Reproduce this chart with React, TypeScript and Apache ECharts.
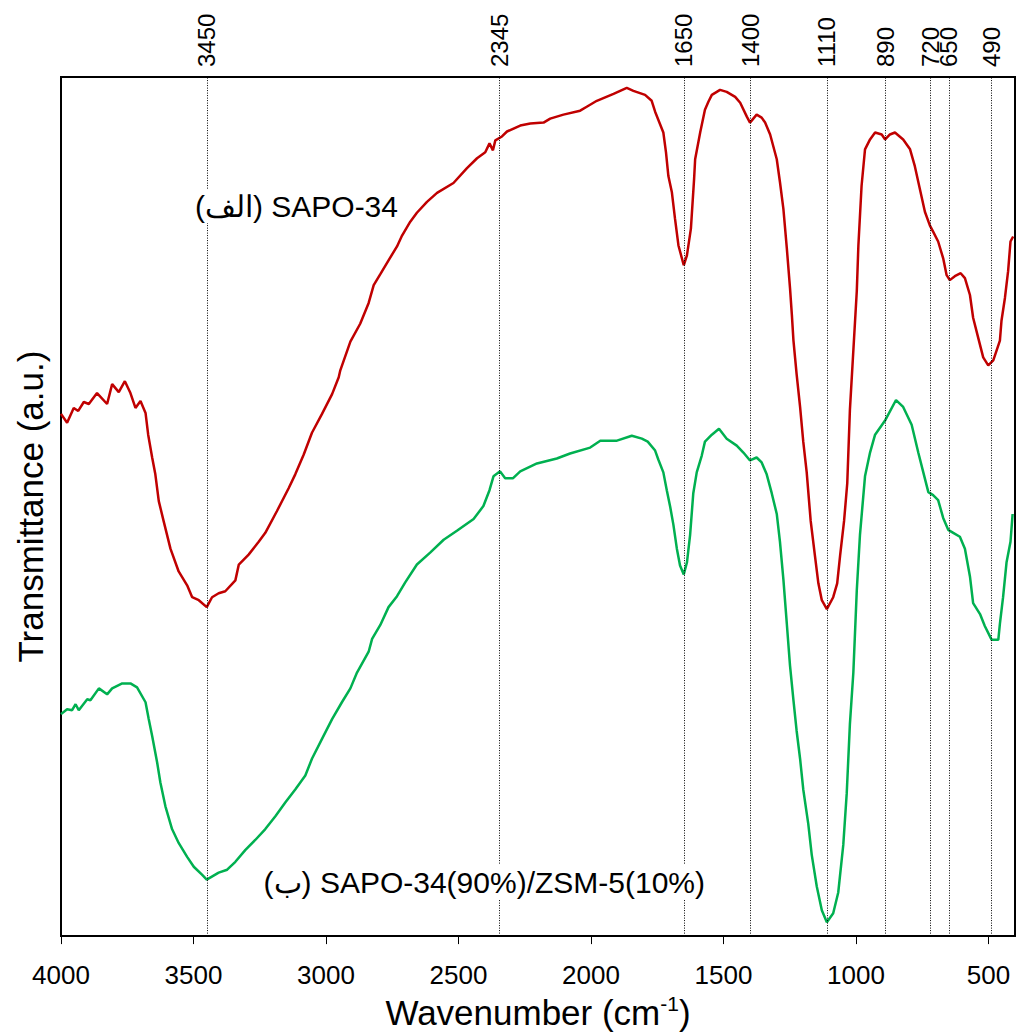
import React, { useEffect, useRef } from "react";
import * as echarts from "echarts";

// ---- Data ----
const bottomTicks = [4000, 3500, 3000, 2500, 2000, 1500, 1000, 500];
const peakLabels = [3450, 2345, 1650, 1400, 1110, 890, 720, 650, 490];

const sapoName = "(الف) SAPO-34";
const compName = "(ب) SAPO-34(90%)/ZSM-5(10%)";

const redWn = [4000,3977,3952,3935,3914,3895,3864,3826,3807,3782,
  3759,3738,3719,3700,3681,3671,3656,3644,3631,3612,
  3587,3556,3524,3505,3480,3450,3430,3405,3380,3342,
  3329,3292,3254,3229,3185,3141,3116,3084,3053,3015,
  2977,2952,2946,2908,2871,2839,2820,2795,2764,2732,
  2713,2682,2657,2619,2581,2519,2468,2430,2399,2383,
  2370,2361,2336,2317,2267,2229,2179,2154,2104,2041,
  2016,1978,1915,1865,1840,1796,1771,1758,1727,1717,
  1708,1695,1683,1670,1650,1638,1623,1611,1607,1588,
  1570,1557,1544,1513,1488,1456,1437,1412,1400,1375,
  1356,1343,1324,1299,1287,1274,1261,1249,1242,1236,
  1224,1211,1199,1186,1171,1155,1142,1129,1110,1086,
  1071,1060,1045,1033,1023,997,991,979,966,947,
  928,903,890,872,853,822,796,778,759,740,
  721,709,690,671,658,646,627,605,589,570,
  558,539,520,501,482,457,451,438,426,417,
  407];
const redT = [527,518,533,530,539,537,548,537,557,549,
  560,548,533,540,528,506,483,466,439,418,
  391,368,354,342,339,332,342,346,348,359,
  375,385,398,407,429,452,466,486,508,527,
  547,564,571,600,618,639,657,668,682,696,
  707,721,730,741,750,760,775,785,791,800,
  793,803,807,812,818,820,821,825,829,833,
  837,843,850,856,853,849,843,832,811,791,
  767,751,724,697,677,687,714,764,784,811,
  834,842,849,854,852,847,841,827,821,829,
  826,821,809,784,761,734,694,654,627,601,
  567,534,499,468,419,384,356,339,330,342,
  356,384,419,457,531,651,697,757,794,804,
  811,809,804,809,811,804,794,777,754,731,
  717,711,701,684,667,662,666,669,664,647,
  624,604,584,576,581,601,621,644,671,701,
  706];

const greenWn = [4000,3977,3958,3945,3933,3901,3889,3857,3826,3807,
  3769,3738,3713,3681,3669,3656,3637,3625,3606,3581,
  3556,3524,3499,3468,3450,3405,3373,3342,3304,3267,
  3229,3191,3153,3116,3078,3053,3015,2977,2940,2908,
  2883,2839,2826,2795,2764,2732,2701,2657,2607,2556,
  2506,2443,2406,2383,2368,2343,2324,2295,2267,2204,
  2129,2079,2003,1965,1902,1846,1808,1786,1758,1746,
  1727,1714,1701,1689,1676,1664,1650,1638,1626,1614,
  1601,1582,1570,1544,1517,1488,1450,1425,1400,1375,
  1356,1337,1318,1299,1287,1274,1261,1249,1236,1224,
  1211,1199,1180,1167,1148,1129,1110,1086,1067,1048,
  1035,1023,1010,997,985,966,947,928,891,849,
  822,790,765,746,727,709,690,671,652,633,
  608,589,570,558,532,514,488,463,457,445,
  432,417,409];
const greenT = [224,229,228,234,228,239,238,250,244,250,
  255,255,251,236,219,202,175,155,131,108,
  94,80,70,62,57,64,67,75,87,97,
  108,121,135,148,162,179,199,219,236,250,
  266,287,300,314,332,343,357,375,387,400,
  409,421,434,450,464,469,462,462,469,477,
  482,487,493,500,500,505,502,499,490,481,
  468,450,433,415,391,374,365,377,405,447,
  468,485,499,506,512,502,495,488,480,483,
  478,466,447,426,398,360,315,273,238,207,
  179,148,113,82,50,26,14,23,44,92,
  144,214,266,349,405,464,488,506,520,541,
  534,516,488,468,448,445,440,422,410,407,
  403,391,363,336,325,313,299,299,315,342,
  377,398,426];

const FONT = '"Liberation Sans", Arial, Helvetica, sans-serif';

function zip(xs: number[], ys: number[]) {
  const n = Math.min(xs.length, ys.length);
  const out: number[][] = [];
  for (let i = 0; i < n; i++) out.push([xs[i], ys[i]]);
  return out;
}

export default function App() {
  const ref = useRef<HTMLDivElement>(null);
  useEffect(() => {
    if (!ref.current) return;
    const chart = echarts.init(ref.current, null, { renderer: "svg" });
    const option: any = {
      animation: false,
      backgroundColor: "#fff",
      grid: {
        left: 61, right: 1, top: 77, bottom: 92,
        show: true, borderColor: "#000", borderWidth: 2,
        backgroundColor: "transparent",
      },
      xAxis: [
        {
          type: "value", min: 400, max: 4000, inverse: true, position: "bottom",
          axisLine: { show: true, lineStyle: { color: "#000", width: 2 } },
          axisTick: { show: true, inside: false, length: 8, customValues: bottomTicks, lineStyle: { color: "#000", width: 1 } },
          axisLabel: { customValues: bottomTicks, formatter: (v: number) => String(v), fontSize: 26, color: "#000", margin: 26, fontFamily: FONT },
          splitLine: { show: false },
          name: "Wavenumber (cm{sup|-1})",
          nameLocation: "middle",
          nameGap: 52,
          nameTextStyle: {
            fontSize: 35, color: "#000", fontFamily: FONT, lineHeight: 38,
            rich: { sup: { fontSize: 21, color: "#000", fontFamily: FONT, verticalAlign: "top", lineHeight: 21 } },
          },
        },
        {
          type: "value", min: 400, max: 4000, inverse: true, position: "top",
          axisLine: { show: false }, axisTick: { show: false }, splitLine: { show: false },
          axisLabel: { customValues: peakLabels, rotate: -90, fontSize: 24, margin: 10, color: "#000", fontFamily: FONT, formatter: (v: number) => String(v) },
        },
      ],
      yAxis: {
        type: "value", min: 0, max: 867,
        axisLine: { show: false }, axisTick: { show: false }, axisLabel: { show: false }, splitLine: { show: false },
        name: "Transmittance (a.u.)", nameLocation: "middle", nameGap: 13,
        nameTextStyle: { fontSize: 35, color: "#000", fontFamily: FONT },
      },
      series: [
        {
          type: "line", data: [], silent: true,
          markLine: {
            silent: true, symbol: ["none", "none"], label: { show: false },
            lineStyle: { type: [1, 1.5], color: "#000", width: 1 },
            emphasis: { disabled: true },
            data: peakLabels.map((v) => ({ xAxis: v })),
          },
        },
        {
          name: sapoName, type: "line", showSymbol: false, data: zip(redWn, redT),
          lineStyle: { color: "#C00000", width: 2.5 }, itemStyle: { color: "#C00000" }, z: 3,
        },
        {
          name: compName, type: "line", showSymbol: false, data: zip(greenWn, greenT),
          lineStyle: { color: "#00B050", width: 2.5 }, itemStyle: { color: "#00B050" }, z: 3,
        },
      ],
      graphic: [
        {
          type: "text", x: 400, y: 206, z: 100,
          style: { text: sapoName, fontSize: 30, fontFamily: FONT, fill: "#000", align: "right", verticalAlign: "middle", textAlign: "right", textVerticalAlign: "middle", backgroundColor: "#fff", padding: [2, 2, 2, 2] },
        },
        {
          type: "text", x: 707, y: 882, z: 100,
          style: { text: compName, fontSize: 30, fontFamily: FONT, fill: "#000", align: "right", verticalAlign: "middle", textAlign: "right", textVerticalAlign: "middle", backgroundColor: "#fff", padding: [2, 2, 2, 2] },
        },
      ],
    };
    chart.setOption(option);
    return () => chart.dispose();
  }, []);
  return <div ref={ref} style={{ position: "fixed", left: 0, top: 0, width: 1016, height: 1036, background: "#fff" }} />;
}
